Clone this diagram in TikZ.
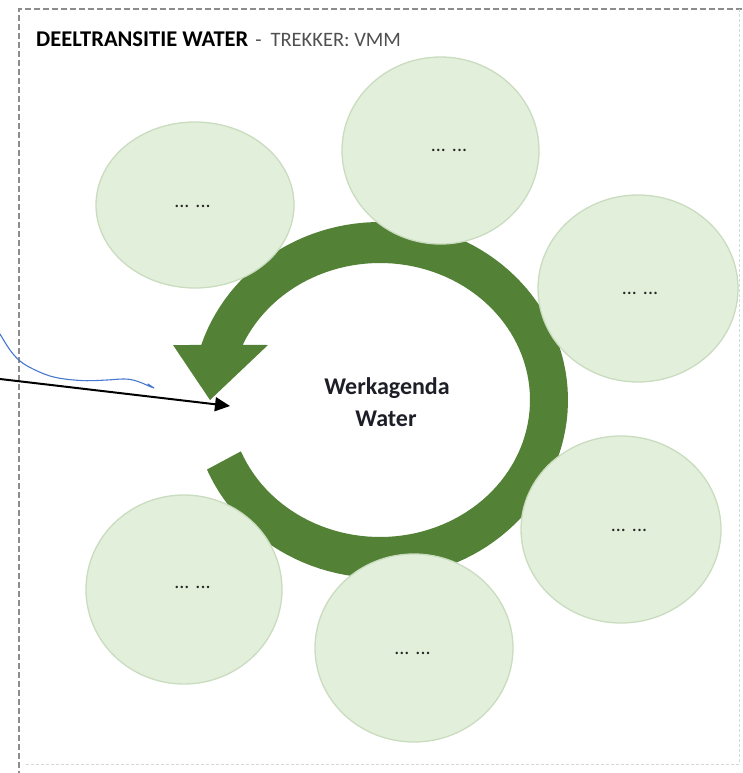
\documentclass[tikz,border=0pt]{standalone}
\usepackage{fontspec}
\setmainfont{Carlito}
\usetikzlibrary{arrows.meta,shapes.geometric}
\definecolor{ringgreen}{RGB}{83,129,53}
\definecolor{ellfill}{RGB}{226,239,218}
\definecolor{elldraw}{RGB}{202,220,192}
\definecolor{bordergray}{RGB}{140,140,140}
\definecolor{borderlight}{RGB}{215,215,215}
\definecolor{penblue}{RGB}{70,120,205}
\definecolor{titlegray}{RGB}{80,80,80}
\definecolor{centertext}{RGB}{30,30,40}
\begin{document}
\begin{tikzpicture}[x=1pt,y=-1pt,
  bubble/.style={ellipse, draw=elldraw, fill=ellfill, line width=1.3pt, inner sep=0pt},
  dots/.style={anchor=base, inner sep=0pt, text=black!85, font=\fontsize{20}{22}\selectfont},
  centerlabel/.style={anchor=base, inner sep=0pt, text=centertext, font=\fontsize{24}{30}\selectfont\bfseries},
  pointer/.style={line width=2pt, -{Triangle[length=15pt,width=14pt]}}
]
\useasboundingbox (0,0) rectangle (742,773);

% circular arrow
\fill[ringgreen]
  plot[domain=157:-162, samples=120] ({380+188*cos(\x)},{400+178*sin(\x)})
  -- (173,345) -- (210,400) -- (268,345)
  -- plot[domain=-156.3:158, samples=120] ({380+150*cos(\x)},{400+137*sin(\x)})
  -- cycle;

% bubbles
\node[bubble, minimum width=198pt, minimum height=166pt] (b1) at (195,205) {};
\node[bubble, minimum width=197pt, minimum height=187pt] (b2) at (440.5,150.5) {};
\node[bubble, minimum width=200pt, minimum height=187pt] (b3) at (638,288.5) {};
\node[bubble, minimum width=200pt, minimum height=187pt] (b4) at (621,529.5) {};
\node[bubble, minimum width=198pt, minimum height=188pt] (b5) at (414,648) {};
\node[bubble, minimum width=196pt, minimum height=189pt] (b6) at (184,589.5) {};

\node[dots] (t1) at (192.5,207) {... ...};
\node[dots] (t2) at (449,151.5) {... ...};
\node[dots] (t3) at (640,294.5) {... ...};
\node[dots] (t4) at (629,531) {... ...};
\node[dots] (t5) at (412.5,654) {... ...};
\node[dots] (t6) at (192.5,588) {... ...};

% centre text
\node[centerlabel] (w1) at (387,394) {Werkagenda};
\node[centerlabel] (w2) at (386,426) {Water};

% title
\node[anchor=base west, inner sep=0pt] (title) at (36,47)
  {\fontsize{22.5}{26}\selectfont\bfseries DEELTRANSITIE WATER\mdseries\fontsize{20.5}{26}\selectfont\color{titlegray}\hspace{7pt}-\hspace{9pt}TREKKER: VMM};

% border
\draw[bordergray, line width=1.5pt, dash pattern=on 6pt off 3pt] (742,9) -- (19,9) -- (19,773);
\draw[borderlight, line width=1pt, dash pattern=on 3pt off 2pt] (26,764) -- (739,764) -- (739,9);

% hand-drawn blue stroke
\draw[penblue, line width=1.1pt, line cap=round, line join=round]
  plot[smooth, tension=0.6] coordinates {(0,334) (10,350) (20,361) (33,369) (50,376) (67,379.3) (87,380.7) (107,380) (123,379) (133,380) (142,383) (150,386.5) (154,388)}
  -- (148,384);

% black pointer
\coordinate (ps) at (0,379);
\coordinate (pe) at (230,406);
\draw[pointer] (ps) -- (pe);
\end{tikzpicture}
\end{document}
